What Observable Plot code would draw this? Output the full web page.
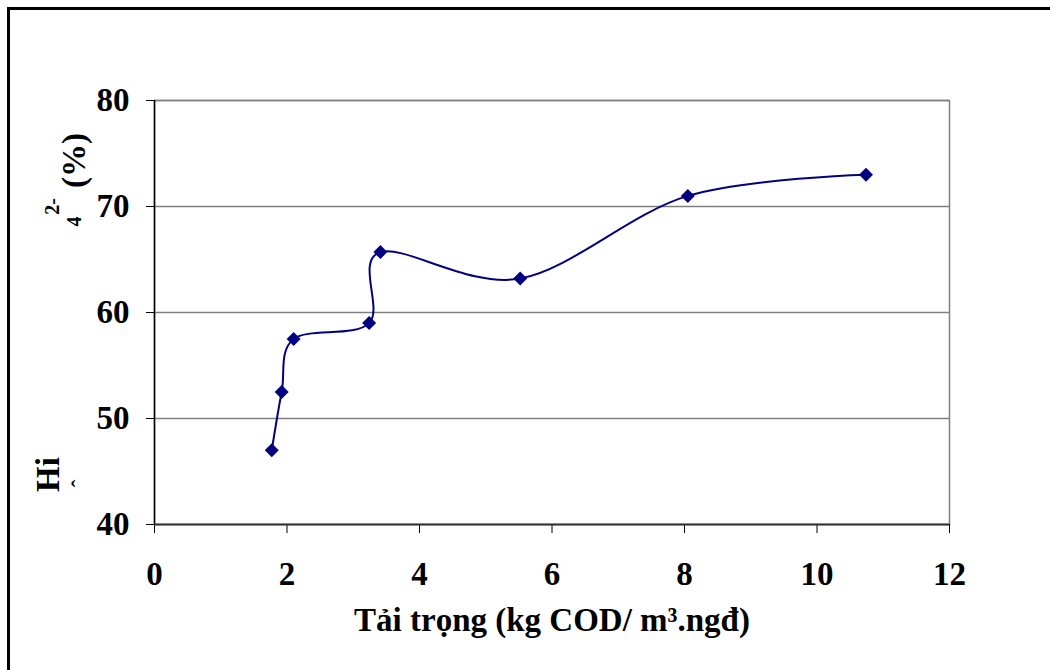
<!DOCTYPE html>
<html>
<head>
<meta charset="utf-8">
<script src="https://cdn.jsdelivr.net/npm/d3@7"></script>
<script src="https://cdn.jsdelivr.net/npm/@observablehq/plot@0.6"></script>
<style>
  html, body { margin: 0; padding: 0; background: #fff; }
  #wrap { position: relative; width: 1050px; height: 670px; overflow: hidden; }
  #border { position: absolute; left: 7px; top: 7px; width: 1100px; height: 700px; border: 3px solid #000; box-sizing: border-box; pointer-events: none; }
  #chart { position: absolute; left: 0; top: 0; }
</style>
</head>
<body>
<div id="wrap">
  <div id="chart"></div>
  <div id="border"></div>
</div>
<script>
// Data
const loading = [1.77, 1.92, 2.1, 3.24, 3.41, 5.52, 8.05, 10.74];
const efficiency = [47.0, 52.5, 57.5, 59.0, 65.7, 63.2, 71.0, 73.0];
const xTicks = [0, 2, 4, 6, 8, 10, 12];
const yTicks = [40, 50, 60, 70, 80];
const xLabel = "Tải trọng (kg COD/ m³.ngđ)";
const yLabelParts = ["Hi", "ˆ", "4", "2-", "(%)"];

const data = loading.map((x, i) => ({x, y: efficiency[i]}));

const font = "'Liberation Serif', 'Times New Roman', serif";

const chart = Plot.plot({
  width: 1050,
  height: 670,
  marginLeft: 154,
  marginRight: 101,
  marginTop: 100,
  marginBottom: 146,
  style: {fontFamily: font, fontWeight: "bold", fontSize: "33px", color: "#000", background: "transparent", overflow: "visible"},
  x: {domain: [0, 12], ticks: xTicks},
  y: {domain: [40, 80], ticks: yTicks},
  marks: [
    Plot.ruleY(yTicks.filter(d => d > 40), {stroke: "#808080", strokeWidth: 1.5}),
    Plot.frame({stroke: "#808080", strokeWidth: 1.5}),
    Plot.axisX({ticks: xTicks, tickSize: 9, tickPadding: 28, label: null, stroke: "#000", fontSize: 33}),
    Plot.axisY({ticks: yTicks, tickSize: 8, tickPadding: 17, label: null, stroke: "#000", fontSize: 33}),
    Plot.ruleX([0], {stroke: "#000", strokeWidth: 1.5}),
    Plot.ruleY([40], {stroke: "#333", strokeWidth: 2}),
    Plot.line(data, {x: "x", y: "y", curve: "cardinal", stroke: "#000080", strokeWidth: 2}),
    Plot.dot(data, {x: "x", y: "y", symbol: "diamond2", r: 6.3, fill: "#000080", stroke: "none"}),
    // x-axis title
    Plot.text([xLabel], {text: d => d, frameAnchor: "bottom", dy: 106, fontSize: 33, fontWeight: "bold", fill: "#000"}),
    // y-axis title fragments (as rendered in the reference)
    Plot.text([yLabelParts[4]], {text: d => d, frameAnchor: "top-left", dx: -93, dy: 60, rotate: -90, textAnchor: "middle", fontSize: 33, fontWeight: "bold", fill: "#000"}),
    Plot.text([yLabelParts[3]], {text: d => d, frameAnchor: "top-left", dx: -110, dy: 106, rotate: -90, textAnchor: "middle", fontSize: 20, fontWeight: "bold", fill: "#000"}),
    Plot.text([yLabelParts[2]], {text: d => d, frameAnchor: "top-left", dx: -88, dy: 121, rotate: -90, textAnchor: "middle", fontSize: 20, fontWeight: "bold", fill: "#000"}),
    Plot.text([yLabelParts[0]], {text: d => d, frameAnchor: "bottom-left", dx: -96, dy: -50, rotate: -90, textAnchor: "middle", fontSize: 33, fontWeight: "bold", fill: "#000"}),
    Plot.text([yLabelParts[1]], {text: d => d, frameAnchor: "bottom-left", dx: -67, dy: -41, rotate: -90, textAnchor: "middle", fontSize: 24, fontWeight: "bold", fill: "#000"})
  ]
});
document.getElementById("chart").appendChild(chart);
</script>
</body>
</html>
